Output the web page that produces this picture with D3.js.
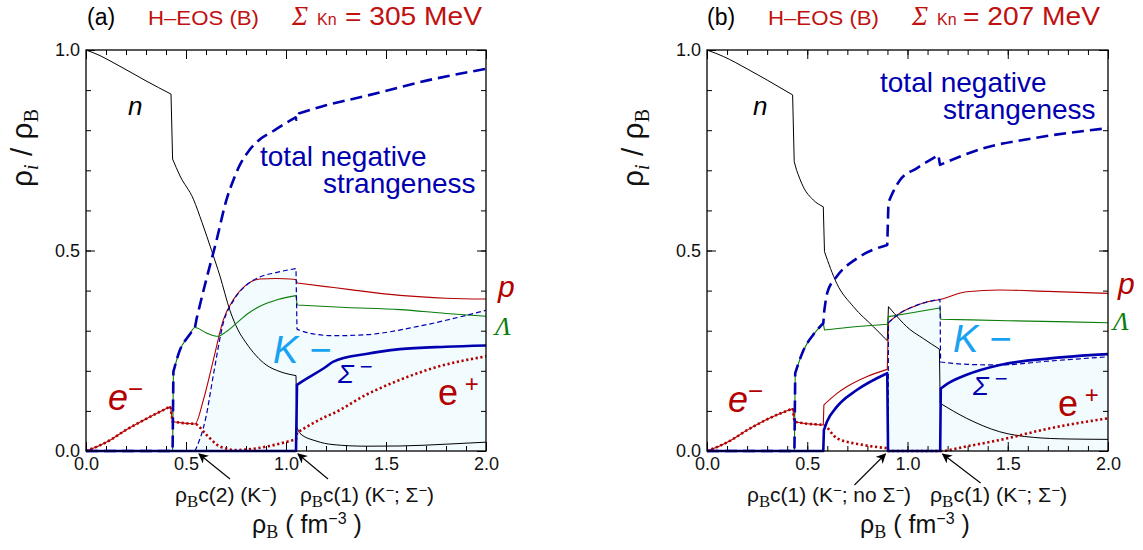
<!DOCTYPE html>
<html><head><meta charset="utf-8">
<script src="https://cdn.jsdelivr.net/npm/d3@7"></script>
<style>body{margin:0;background:#fff}</style>
</head><body>
<svg id="chart" width="1143" height="550"></svg>
<script>
// Particle fractions rho_i / rho_B against baryon density rho_B (fm^-3)
// Each series is a list of [rho_B, fraction] pairs; steps are pairs of nearly equal rho_B.

// ---------- panel (a): Sigma_Kn = 305 MeV ----------
const nA = [[0,1.0],[0.07,0.986],[0.12,0.973],[0.2,0.951],[0.3,0.923],[0.425,0.89],[0.433,0.728],[0.47,0.686],[0.537,0.628],[0.58,0.57],[0.628,0.50],[0.67,0.436],[0.72,0.35],[0.76,0.302],[0.80,0.27],[0.85,0.238],[0.90,0.215],[0.97,0.198],[1.05,0.188],[1.054,0.06],[1.07,0.044],[1.15,0.025],[1.235,0.016],[1.4,0.012],[1.57,0.0125],[1.8,0.017],[2.0,0.022]];
const pA = [[0,0],[0.06,0.012],[0.12,0.027],[0.2,0.0525],[0.3,0.08],[0.422,0.111],[0.433,0.073],[0.5,0.069],[0.545,0.0675],[0.587,0.1275],[0.637,0.2275],[0.687,0.3275],[0.737,0.3775],[0.803,0.415],[0.87,0.429],[0.95,0.43],[1.05,0.4275],[1.056,0.419],[1.2,0.41],[1.32,0.4025],[1.57,0.388],[1.8,0.381],[2.0,0.379]];
const lamA = [[0,0],[0.433,0],[0.437,0.198],[0.47,0.2525],[0.512,0.286],[0.545,0.308],[0.6,0.295],[0.66,0.286],[0.70,0.297],[0.753,0.319],[0.81,0.343],[0.87,0.361],[0.96,0.378],[1.05,0.3875],[1.056,0.364],[1.3,0.358],[1.57,0.3525],[1.8,0.343],[2.0,0.336]];
const lepA = [[0,0],[0.06,0.012],[0.12,0.027],[0.2,0.0525],[0.3,0.08],[0.422,0.111],[0.433,0.073],[0.5,0.069],[0.545,0.0675],[0.603,0.04],[0.67,0.011],[0.753,0.0025],[0.83,0.005],[0.903,0.011],[1.05,0.029],[1.056,0.046],[1.2,0.086],[1.237,0.094],[1.40,0.14],[1.57,0.1775],[1.737,0.207],[2.0,0.236]];
const sigA = [[0,0],[1.05,0],[1.055,0.165],[1.07,0.17],[1.2,0.21],[1.237,0.223],[1.40,0.242],[1.57,0.254],[1.8,0.26],[2.0,0.263]];
const kA = [[0.545,0],[0.60,0.085],[0.637,0.19],[0.687,0.32],[0.737,0.375],[0.803,0.414],[0.87,0.434],[0.95,0.445],[1.05,0.455],[1.055,0.304],[1.1,0.296],[1.237,0.2875],[1.40,0.29],[1.653,0.31],[1.8,0.326],[2.0,0.351]];
const strA = [[0,0],[0.433,0],[0.437,0.198],[0.47,0.2525],[0.512,0.286],[0.545,0.308],[0.553,0.33],[0.6,0.425],[0.65,0.52],[0.703,0.6275],[0.737,0.676],[0.77,0.714],[0.812,0.747],[0.87,0.7775],[0.937,0.798],[1.003,0.819],[1.048,0.832],[1.052,0.826],[1.066,0.842],[1.2,0.862],[1.403,0.886],[1.737,0.9275],[2.0,0.953]];
const critA = [0.55, 1.05];

// ---------- panel (b): Sigma_Kn = 207 MeV ----------
const nB = [[0,1.0],[0.081,0.984],[0.2,0.953],[0.3,0.925],[0.427,0.888],[0.435,0.7215],[0.447,0.70],[0.48,0.659],[0.53,0.626],[0.58,0.609],[0.586,0.497],[0.647,0.418],[0.73,0.36],[0.83,0.31],[0.899,0.275],[0.905,0.36],[0.963,0.327],[0.996,0.31],[1.08,0.28],[1.159,0.254],[1.163,0.119],[1.295,0.0815],[1.46,0.048],[1.627,0.034],[1.8,0.03],[2.0,0.029]];
const pB = [[0,0],[0.06,0.012],[0.12,0.027],[0.2,0.052],[0.3,0.079],[0.428,0.106],[0.436,0.073],[0.5,0.068],[0.58,0.065],[0.583,0.115],[0.647,0.143],[0.697,0.16],[0.796,0.185],[0.899,0.2035],[0.905,0.32],[0.96,0.343],[1.029,0.36],[1.1,0.372],[1.162,0.378],[1.295,0.397],[1.46,0.4015],[1.7,0.398],[2.0,0.393]];
const lamB = [[0,0],[0.436,0],[0.44,0.194],[0.48,0.25],[0.53,0.29],[0.58,0.3185],[0.586,0.3017],[0.7,0.308],[0.899,0.316],[0.905,0.335],[1.0,0.343],[1.162,0.357],[1.166,0.3285],[1.5,0.325],[2.0,0.32]];
const lepB = [[0,0],[0.06,0.012],[0.12,0.027],[0.2,0.052],[0.3,0.079],[0.428,0.106],[0.436,0.073],[0.5,0.068],[0.58,0.065],[0.647,0.032],[0.78,0.015],[0.9,0.007],[0.905,0],[1.16,0],[1.3,0.012],[1.46,0.0275],[1.71,0.0566],[2.0,0.0815]];
const sigB = [[0,0],[0.58,0],[0.583,0.052],[0.6,0.075],[0.647,0.11],[0.747,0.152],[0.899,0.194],[0.903,0],[1.163,0],[1.166,0.156],[1.2,0.168],[1.295,0.19],[1.46,0.2145],[1.71,0.231],[2.0,0.2415]];
const kB = [[0.903,0],[0.905,0.32],[0.96,0.343],[1.029,0.36],[1.1,0.372],[1.162,0.378],[1.165,0.222],[1.3,0.216],[1.46,0.2145],[1.7,0.224],[2.0,0.235]];
const strB = [[0,0],[0.436,0],[0.44,0.194],[0.48,0.25],[0.53,0.29],[0.58,0.3185],[0.585,0.35],[0.6,0.395],[0.647,0.435],[0.747,0.48],[0.899,0.514],[0.905,0.62],[0.93,0.648],[0.963,0.676],[1.046,0.705],[1.154,0.738],[1.162,0.7135],[1.378,0.755],[1.627,0.78],[2.0,0.805]];
const critB = [0.9, 1.16];

// ---------- axis ticks ----------
const xMajor = [0, 0.5, 1.0, 1.5, 2.0];
const yMajor = [0, 0.5, 1.0];
const xMinor = d3.range(0, 21).map(i => i / 10);
const yMinor = d3.range(0, 11).map(i => i / 10);

const RED = "#b30000", TRED = "#c01010", GREEN = "#0a7d0a", BLUE = "#0000b0",
      KBLUE = "#18a2f2", FILL = "#f2fbfd";
const SANS = "'Liberation Sans', Arial, sans-serif";
const SERIF = "'Liberation Serif', 'Times New Roman', serif";

const svg = d3.select("#chart");

// arrow head for the threshold pointers
svg.append("defs").append("marker")
  .attr("id", "arr").attr("viewBox", "0 0 10 10").attr("refX", 9).attr("refY", 5)
  .attr("markerWidth", 10).attr("markerHeight", 10).attr("markerUnits", "userSpaceOnUse")
  .attr("orient", "auto")
  .append("path").attr("d", "M0,0 L10,5 L0,10 L3,5 Z").attr("fill", "#000");

const panels = [
  { left: 86, right: 486, tag: "(a)", sk: "305",
    s: { n: nA, p: pA, lam: lamA, lep: lepA, sig: sigA, k: kA, str: strA }, crit: critA,
    titleX: [87, 148, 292, 317, 345], ylabX: 22, xlabX: 307,
    notes: [
      { x: 175, len: 102, parts: ["c(2) (K", ")"], tip: [3, 3], tail: [31, 25] },
      { x: 300, len: 134, parts: ["c(1) (K", "; Σ", ")"], tip: [2, 3], tail: [30, 25] } ],
    lab: { n: [128, 115], tot: [260, 166], str: [323, 193], K: [273, 363], Sig: [338, 383],
           em: [108, 410], ep: [438, 405], p: [498, 297], L: [495, 335] } },
  { left: 707, right: 1108, tag: "(b)", sk: "207",
    s: { n: nB, p: pB, lam: lamB, lep: lepB, sig: sigB, k: kB, str: strB }, crit: critB,
    titleX: [707, 768, 912, 937, 963], ylabX: 633, xlabX: 915,
    notes: [
      { x: 747, len: 164, parts: ["c(1) (K", "; no Σ", ")"], tip: [-2, 3], tail: [-31, 31] },
      { x: 930, len: 137, parts: ["c(1) (K", "; Σ", ")"], tip: [3, 3], tail: [38, 29] } ],
    lab: { n: [753, 115], tot: [880, 92], str: [943, 119], K: [953, 352], Sig: [973, 395],
           em: [728, 412], ep: [1058, 416], p: [1118, 294], L: [1113, 330] } }
];

panels.forEach(P => {
  const x = d3.scaleLinear([0, 2], [P.left, P.right]);
  const y = d3.scaleLinear([0, 1], [451, 50]);
  const g = svg.append("g");
  const smooth = d3.line().x(d => x(d[0])).y(d => y(d[1])).curve(d3.curveMonotoneX);

  // smooth pieces joined by straight vertical steps
  const stepPath = data => {
    const segs = [];
    let cur = [data[0]];
    for (let i = 1; i < data.length; i++) {
      if (data[i][0] - data[i - 1][0] < 0.0145) { segs.push(cur); cur = [data[i]]; }
      else cur.push(data[i]);
    }
    segs.push(cur);
    return segs.map((s, i) => {
      if (s.length === 1) return `${i ? "L" : "M"}${x(s[0][0])},${y(s[0][1])}`;
      const d = smooth(s);
      return i ? d.replace(/^M/, "L") : d;
    }).join("");
  };

  // shaded region below the K- fraction
  const k = P.s.k;
  g.append("path")
    .attr("d", stepPath(k) + `L${x(k[k.length - 1][0])},${y(0)}L${x(k[0][0])},${y(0)}Z`)
    .attr("fill", FILL);

  // axes: inward minor and major ticks on all four sides
  const tickStyle = sel => {
    sel.select(".domain").remove();
    sel.selectAll("line").attr("stroke", "#000").attr("stroke-width", 1);
    sel.selectAll("text").attr("font-family", SANS).attr("font-size", 18).attr("fill", "#111");
  };
  const put = (axis, tx, ty) => g.append("g").attr("transform", `translate(${tx},${ty})`).call(axis).call(tickStyle);
  put(d3.axisBottom(x).tickValues(xMinor).tickSize(-5).tickFormat(""), 0, y(0));
  put(d3.axisBottom(x).tickValues(xMajor).tickSize(-9).tickPadding(6).tickFormat(d3.format(".1f")), 0, y(0));
  put(d3.axisTop(x).tickValues(xMinor).tickSize(-5).tickFormat(""), 0, y(1));
  put(d3.axisTop(x).tickValues(xMajor).tickSize(-9).tickFormat(""), 0, y(1));
  put(d3.axisLeft(y).tickValues(yMinor).tickSize(-5).tickFormat(""), x(0), 0);
  put(d3.axisLeft(y).tickValues(yMajor).tickSize(-9).tickPadding(6).tickFormat(d3.format(".1f")), x(0), 0);
  put(d3.axisRight(y).tickValues(yMinor).tickSize(-5).tickFormat(""), x(2), 0);
  put(d3.axisRight(y).tickValues(yMajor).tickSize(-9).tickFormat(""), x(2), 0);

  // curves
  const styles = [
    { key: "n", color: "#000", w: 1 },
    { key: "p", color: RED, w: 1.1 },
    { key: "lam", color: GREEN, w: 1.1 },
    { key: "lep", color: RED, w: 2.6, dash: "2.2,2.6" },
    { key: "sig", color: BLUE, w: 2.6 },
    { key: "k", color: BLUE, w: 1.2, dash: "5,3" },
    { key: "str", color: BLUE, w: 2.6, dash: "12,6" }
  ];
  styles.forEach(st => {
    g.append("path").attr("d", stepPath(P.s[st.key]))
      .attr("fill", "none").attr("stroke", st.color).attr("stroke-width", st.w)
      .attr("stroke-dasharray", st.dash || null).attr("stroke-linejoin", "round");
  });

  g.append("rect").attr("x", x(0)).attr("y", y(1)).attr("width", x(2) - x(0)).attr("height", y(0) - y(1))
    .attr("fill", "none").attr("stroke", "#000").attr("stroke-width", 1.3);

  // title row
  const tX = P.titleX;
  svg.append("text").attr("x", tX[0]).attr("y", 25).attr("font-family", SANS).attr("font-size", 23).text(P.tag);
  svg.append("text").attr("x", tX[1]).attr("y", 25).attr("font-family", SANS).attr("font-size", 21)
    .attr("fill", TRED).attr("textLength", 111).attr("lengthAdjust", "spacingAndGlyphs").text("H–EOS (B)");
  svg.append("text").attr("x", tX[2]).attr("y", 25).attr("font-family", SERIF).attr("font-style", "italic")
    .attr("font-size", 27).attr("fill", TRED).text("Σ");
  svg.append("text").attr("x", tX[3]).attr("y", 25).attr("font-family", SANS).attr("font-size", 16)
    .attr("fill", TRED).text("Kn");
  svg.append("text").attr("x", tX[4]).attr("y", 25).attr("font-family", SANS).attr("font-size", 25)
    .attr("fill", TRED).attr("textLength", 137).attr("lengthAdjust", "spacingAndGlyphs").text(`= ${P.sk} MeV`);

  // y-axis title
  const yl = svg.append("text").attr("transform", `translate(${P.ylabX + 10},148) rotate(-90)`)
    .attr("text-anchor", "middle").attr("font-family", SANS).attr("font-size", 30).attr("fill", "#111");
  yl.append("tspan").text("ρ");
  yl.append("tspan").attr("font-family", SERIF).attr("font-style", "italic").attr("font-size", 20).attr("dy", 6).text("i");
  yl.append("tspan").attr("dy", -6).text(" / ρ");
  yl.append("tspan").attr("font-family", SERIF).attr("font-size", 20).attr("dy", 6).text("B");

  // x-axis title
  const xl = svg.append("text").attr("x", P.xlabX).attr("y", 533).attr("text-anchor", "middle")
    .attr("font-family", SANS).attr("font-size", 25).attr("fill", "#111");
  xl.append("tspan").text("ρ");
  xl.append("tspan").attr("font-family", SERIF).attr("font-size", 18).attr("dy", 5).text("B");
  xl.append("tspan").attr("dy", -5).text(" ( fm");
  xl.append("tspan").attr("font-size", 16).attr("dy", -9).text("−3");
  xl.append("tspan").attr("dy", 9).text(" )");

  // threshold densities with pointers
  P.notes.forEach((nt, i) => {
    const tx = x(P.crit[i]) + nt.tip[0], ty = y(0) + nt.tip[1];
    g.append("line").attr("x1", tx + nt.tail[0]).attr("y1", ty + nt.tail[1]).attr("x2", tx).attr("y2", ty)
      .attr("stroke", "#000").attr("stroke-width", 1.1).attr("marker-end", "url(#arr)");
    const t = svg.append("text").attr("x", nt.x).attr("y", 502).attr("font-family", SANS)
      .attr("font-size", 20).attr("fill", "#111")
      .attr("textLength", nt.len).attr("lengthAdjust", "spacingAndGlyphs");
    t.append("tspan").text("ρ");
    t.append("tspan").attr("font-family", SERIF).attr("font-size", 16).attr("dy", 5).text("B");
    t.append("tspan").attr("dy", -5).text(nt.parts[0]);
    nt.parts.slice(1).forEach(part => {
      t.append("tspan").attr("font-size", 14).attr("dy", -7).text("−");
      t.append("tspan").attr("dy", 7).text(part);
    });
  });

  // species labels
  const L = P.lab;
  const lbl = (pos, txt, o) => svg.append("text").attr("x", pos[0]).attr("y", pos[1])
    .attr("font-family", o.ff || SANS).attr("font-size", o.fs).attr("fill", o.c)
    .attr("font-style", o.it ? "italic" : null).text(txt);
  lbl(L.n, "n", { fs: 26, c: "#000", it: true });
  lbl(L.tot, "total negative", { fs: 28, c: BLUE });
  lbl(L.str, "strangeness", { fs: 28, c: BLUE });
  lbl(L.K, "K −", { fs: 38, c: KBLUE, it: true });
  const sg = lbl(L.Sig, "Σ", { fs: 26, c: BLUE, it: true });
  sg.append("tspan").attr("font-style", "normal").attr("font-size", 22).attr("dy", -9).text(" −");
  const em = lbl(L.em, "e", { fs: 36, c: RED, it: true });
  em.append("tspan").attr("font-style", "normal").attr("font-size", 26).attr("dy", -12).text("−");
  const ep = lbl(L.ep, "e", { fs: 36, c: RED });
  ep.append("tspan").attr("font-size", 24).attr("dy", -13).text(" +");
  lbl(L.p, "p", { fs: 30, c: RED, it: true });
  lbl(L.L, "Λ", { fs: 26, c: GREEN, it: true, ff: SERIF });
});
</script>
</body></html>
